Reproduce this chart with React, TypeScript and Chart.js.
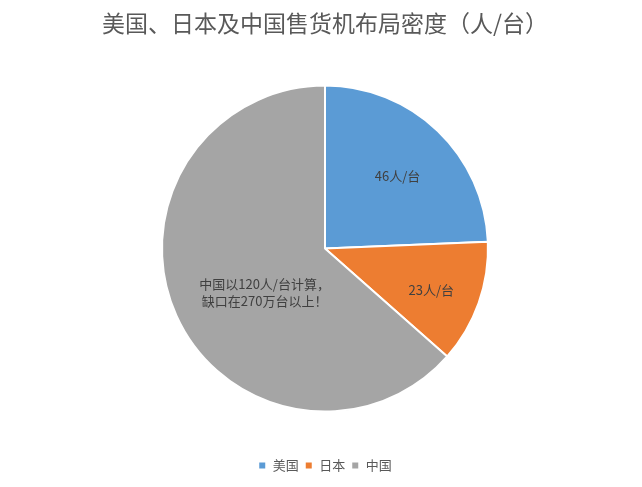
import { Chart, registerables, ArcElement } from "chart.js";
import { useEffect, useRef } from "react";

Chart.register(...registerables);

const countries = ["美国", "日本", "中国"];
const peoplePerMachine = [46, 23, 120];
const sliceLabels = [["46人/台"], ["23人/台"], ["中国以120人/台计算，", "缺口在270万台以上！"]];
const chartTitle = "美国、日本及中国售货机布局密度（人/台）";

const colors = ["#5B9BD5", "#ED7D31", "#A5A5A5"];
const FONT = "'Noto Sans CJK SC', 'Noto Sans', sans-serif";

// where each label sits inside its slice (fraction of radius, angle nudge in rad)
const labelPlacement = [
  { r: 0.63, da: 0.02 },
  { r: 0.7, da: 0.03 },
  { r: 0.46, da: -0.21 },
];

const sliceLabelPlugin = {
  id: "sliceLabels",
  afterDatasetsDraw(chart: Chart) {
    const { ctx } = chart;
    const meta = chart.getDatasetMeta(0);
    ctx.save();
    ctx.font = `13px ${FONT}`;
    ctx.fillStyle = "#404040";
    ctx.textAlign = "center";
    ctx.textBaseline = "middle";
    meta.data.forEach((el, i) => {
      const arc = el as ArcElement;
      const { x, y, startAngle, endAngle, outerRadius } = arc.getProps(
        ["x", "y", "startAngle", "endAngle", "outerRadius"],
        true
      ) as any;
      const p = labelPlacement[i];
      const mid = (startAngle + endAngle) / 2 + p.da;
      const cx = x + Math.cos(mid) * outerRadius * p.r;
      const cy = y + Math.sin(mid) * outerRadius * p.r;
      const lines = sliceLabels[i];
      const lh = 17;
      lines.forEach((line, j) => {
        ctx.fillText(line, cx, cy + (j - (lines.length - 1) / 2) * lh);
      });
    });
    ctx.restore();
  },
};

export default function App() {
  const canvasRef = useRef<HTMLCanvasElement | null>(null);
  const chartRef = useRef<Chart | null>(null);

  useEffect(() => {
    document.body.style.margin = "0";
    const canvas = canvasRef.current;
    if (!canvas) return;
    const ctx = canvas.getContext("2d");
    if (!ctx) return;

    chartRef.current?.destroy();
    chartRef.current = new Chart(ctx, {
      type: "pie",
      data: {
        labels: countries,
        datasets: [
          {
            data: peoplePerMachine,
            backgroundColor: colors,
            borderColor: "#ffffff",
            borderWidth: 2,
            radius: 163,
          },
        ],
      },
      options: {
        responsive: true,
        maintainAspectRatio: false,
        animation: false,
        layout: { padding: { left: 8, right: 0, top: 0, bottom: 5 } },
        plugins: {
          title: {
            display: true,
            text: chartTitle,
            color: "#595959",
            font: { family: FONT, size: 23, weight: "normal" },
            padding: { top: 9, bottom: 7.5 },
          },
          legend: {
            position: "bottom",
            labels: {
              boxWidth: 8,
              boxHeight: 8,
              padding: 6,
              color: "#595959",
              font: { family: FONT, size: 13 },
            },
          },
          tooltip: { enabled: false },
        },
      },
      plugins: [sliceLabelPlugin],
    });

    return () => {
      chartRef.current?.destroy();
      chartRef.current = null;
    };
  }, []);

  return (
    <div style={{ width: 642, height: 487, position: "relative", background: "#fff" }}>
      <canvas ref={canvasRef} />
    </div>
  );
}
